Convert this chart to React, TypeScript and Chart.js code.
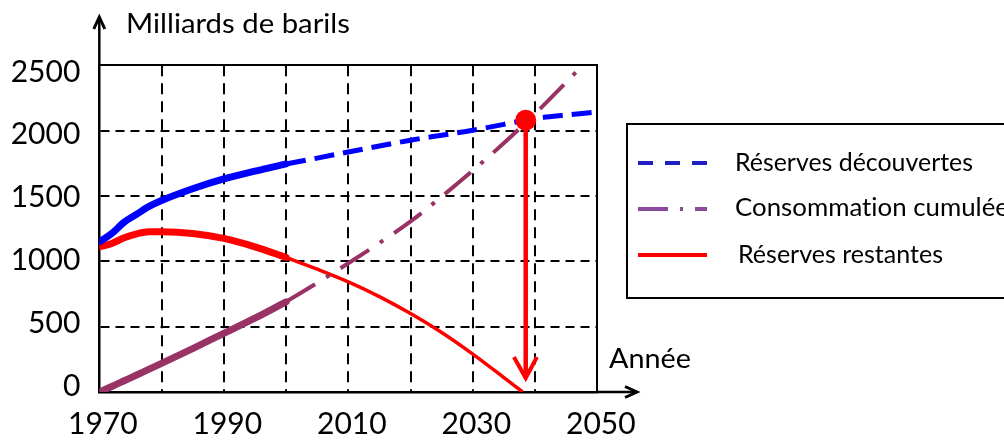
import React, { useEffect, useRef } from "react";
import { Chart, registerables } from "chart.js";

Chart.register(...registerables);

// ---- data ----
const histYears = [1970, 1972, 1974, 1976, 1978, 1980, 1985, 1990, 1995, 2000];
const discoveredHist = [1149, 1213, 1300, 1360, 1420, 1465, 1555, 1630, 1690, 1745];
const consumedHist = [0, 42, 86, 130, 175, 219, 332, 449, 565, 690];
const remainingHist = [1111, 1137, 1180, 1210, 1226, 1226, 1213, 1175, 1111, 1030];

const projYears = [2000, 2005, 2010, 2015, 2020, 2025, 2030, 2035, 2040, 2045, 2050];
const discoveredProj = [1745, 1790, 1837, 1882, 1927, 1965, 2003, 2048, 2093, 2120, 2143];
const consumedProj = [690, 835, 985, 1140, 1305, 1495, 1695, 1905, 2130, 2370, 2620];

const remainingYears = [2000, 2005, 2010, 2015, 2020, 2025, 2030, 2035, 2038];
const remainingProj = [1030, 940, 843, 730, 600, 455, 290, 110, 0];

const peakYears = [2038.5];
const peakValues = [2080];
const arrowShaftYears = [2038.5, 2038.5];
const arrowShaftValues = [2080, 107];
const arrowHeadYears = [2036.6, 2038.5, 2040.3];
const arrowHeadValues = [268, 107, 268];

const xTickLabels = [1970, 1990, 2010, 2030, 2050];
const yTickLabels = [0, 500, 1000, 1500, 2000, 2500];

const legendLabels = ["Réserves découvertes", "Consommation cumulée", "Réserves restantes"];
const yTitle = "Milliards de barils";
const xTitle = "Année";

const pts = (xs: number[], ys: number[]) => xs.map((x, i) => ({ x, y: ys[i] }));

const BLUE = "#0000ff";
const PURPLE = "#993366";
const RED = "#ff0000";
const FONT = "Lato";

const axisArrows = {
  id: "axisArrows",
  afterDraw(chart: any) {
    const { ctx, chartArea } = chart;
    const x0 = chartArea.left;
    const y0 = chartArea.bottom;
    ctx.save();
    ctx.strokeStyle = "#000";
    ctx.lineWidth = 2.5;
    ctx.lineJoin = "miter";
    ctx.beginPath();
    ctx.moveTo(x0, chartArea.top);
    ctx.lineTo(x0, 17);
    ctx.stroke();
    ctx.beginPath();
    ctx.lineWidth = 3;
    ctx.moveTo(x0 - 5.5, 29);
    ctx.lineTo(x0, 17);
    ctx.lineTo(x0 + 5.5, 29);
    ctx.stroke();
    ctx.lineWidth = 2.5;
    ctx.beginPath();
    ctx.moveTo(chartArea.right, y0);
    ctx.lineTo(637, y0);
    ctx.stroke();
    ctx.lineWidth = 3;
    ctx.beginPath();
    ctx.moveTo(625, y0 - 5.5);
    ctx.lineTo(637, y0);
    ctx.lineTo(625, y0 + 5.5);
    ctx.stroke();
    ctx.restore();
  },
};

export default function App() {
  const ref = useRef<HTMLCanvasElement | null>(null);

  useEffect(() => {
    document.body.style.margin = "0";
    const canvas = ref.current;
    if (!canvas) return;
    const chart = new Chart(canvas, {
      type: "line",
      data: {
        datasets: [
          {
            label: "arrowhead",
            data: pts(arrowHeadYears, arrowHeadValues),
            borderColor: RED,
            borderWidth: 4,
            pointRadius: 0,
            tension: 0,
            borderJoinStyle: "miter",
          },
          {
            label: "arrow",
            data: pts(arrowShaftYears, arrowShaftValues),
            borderColor: RED,
            borderWidth: 4.5,
            pointRadius: 0,
            tension: 0,
          },
          {
            label: "peak",
            data: pts(peakYears, peakValues),
            showLine: false,
            pointRadius: 10.5,
            pointBackgroundColor: RED,
            pointBorderWidth: 0,
            clip: false,
          },
          {
            label: legendLabels[0] + " (proj)",
            data: pts(projYears, discoveredProj),
            borderColor: BLUE,
            borderWidth: 5,
            borderDash: [20, 9],
            pointRadius: 0,
            cubicInterpolationMode: "monotone",
          },
          {
            label: legendLabels[1] + " (proj)",
            data: pts(projYears, consumedProj),
            borderColor: PURPLE,
            borderWidth: 4,
            borderDash: [34, 13, 4, 13],
            pointRadius: 0,
            cubicInterpolationMode: "monotone",
          },
          {
            label: legendLabels[2] + " (proj)",
            data: pts(remainingYears, remainingProj),
            borderColor: RED,
            borderWidth: 3.5,
            pointRadius: 0,
            cubicInterpolationMode: "monotone",
          },
          {
            label: legendLabels[0],
            data: pts(histYears, discoveredHist),
            borderColor: BLUE,
            borderWidth: 7,
            borderCapStyle: "round",
            pointRadius: 0,
            cubicInterpolationMode: "monotone",
          },
          {
            label: legendLabels[2],
            data: pts(histYears, remainingHist),
            borderColor: RED,
            borderWidth: 7,
            borderCapStyle: "round",
            pointRadius: 0,
            cubicInterpolationMode: "monotone",
          },
          {
            label: legendLabels[1],
            data: pts(histYears, consumedHist),
            borderColor: PURPLE,
            borderWidth: 7,
            borderCapStyle: "round",
            pointRadius: 0,
            cubicInterpolationMode: "monotone",
          },
        ],
      },
      options: {
        animation: false,
        responsive: true,
        maintainAspectRatio: false,
        layout: { padding: { top: 65.3, right: 406.7, left: 0, bottom: 0 } },
        plugins: { legend: { display: false }, tooltip: { enabled: false } },
        scales: {
          x: {
            type: "linear",
            position: "bottom",
            min: 1970,
            max: 2050,
            ticks: {
              stepSize: 10,
              autoSkip: false,
              maxRotation: 0,
              color: "#000",
              font: { family: FONT, size: 30 },
              padding: 14,
              labelOffset: 3.5,
              callback: (v: any) => (xTickLabels.includes(Number(v)) ? String(v) : ""),
            },
            grid: { color: "#000", lineWidth: 2, drawTicks: false },
            border: { display: true, color: "#000", width: 2.5, dash: [11, 7] },
            afterFit: (s: any) => {
              s.height = 49;
            },
          },
          x2: {
            type: "linear",
            position: "top",
            min: 1970,
            max: 2050,
            ticks: { display: false },
            grid: { display: false, drawTicks: false },
            border: { display: true, color: "#000", width: 2 },
            afterFit: (s: any) => {
              s.height = 0;
            },
          },
          y: {
            type: "linear",
            position: "left",
            weight: 0,
            min: 0,
            max: 2500,
            ticks: { display: false, stepSize: 500 },
            grid: { color: "#000", lineWidth: 2, drawTicks: false },
            border: { display: true, color: "#000", width: 2.5, dash: [9, 6] },
            afterFit: (s: any) => {
              s.width = 0;
            },
          },
          yLabels: {
            type: "linear",
            position: "left",
            weight: 1,
            bounds: "data",
            min: -47.8,
            max: 2553,
            ticks: {
              color: "#000",
              font: { family: FONT, size: 30 },
              padding: 19,
              autoSkip: false,
              callback: (v: any) => String(v),
            },
            afterBuildTicks: (s: any) => {
              s.ticks = yTickLabels.map((v) => ({ value: v }));
            },
            grid: { display: false, drawTicks: false },
            border: { display: false },
            afterFit: (s: any) => {
              s.width = 99.3;
            },
          },
          y2: {
            type: "linear",
            position: "right",
            min: 0,
            max: 2500,
            ticks: { display: false },
            grid: { display: false, drawTicks: false },
            border: { display: true, color: "#000", width: 2 },
            afterFit: (s: any) => {
              s.width = 0;
            },
          },
        },
      } as any,
      plugins: [axisArrows],
    });
    return () => chart.destroy();
  }, []);

  return (
    <div
      style={{
        position: "fixed",
        left: 0,
        top: 0,
        width: 1004,
        height: 441,
        overflow: "hidden",
        background: "#fff",
      }}
    >
      <canvas ref={ref} width={1004} height={441} style={{ position: "absolute", left: 0, top: 0 }} />
      <svg
        width={1004}
        height={441}
        style={{
          position: "absolute",
          left: 0,
          top: 0,
          pointerEvents: "none",
          fontVariantLigatures: "none",
          fontFeatureSettings: '"liga" 0, "clig" 0',
        }}
        fontFamily={FONT}
      >
        <text x={126} y={33} fontSize={27} fill="#000" textLength={224} lengthAdjust="spacingAndGlyphs">
          {yTitle}
        </text>
        <text x={609} y={368} fontSize={27} fill="#000" textLength={82} lengthAdjust="spacingAndGlyphs">
          {xTitle}
        </text>
        <rect x={627} y={124} width={420} height={174} fill="#fff" stroke="#000" strokeWidth={2} />
        <line x1={638} y1={163} x2={707} y2={163} stroke="#1f1fc4" strokeWidth={4} strokeDasharray="15 12" />
        <line x1={638} y1={209} x2={707} y2={209} stroke="#8b4a9c" strokeWidth={4} strokeDasharray="30 12 3 12 30" />
        <line x1={638} y1={255} x2={707} y2={255} stroke={RED} strokeWidth={4} />
        <text x={735} y={171} fontSize={24.5} fill="#000" textLength={238} lengthAdjust="spacingAndGlyphs">
          {legendLabels[0]}
        </text>
        <text x={735} y={216} fontSize={24.5} fill="#000" textLength={274} lengthAdjust="spacingAndGlyphs">
          {legendLabels[1]}
        </text>
        <text x={738} y={263} fontSize={24.5} fill="#000" textLength={205} lengthAdjust="spacingAndGlyphs">
          {legendLabels[2]}
        </text>
      </svg>
    </div>
  );
}
